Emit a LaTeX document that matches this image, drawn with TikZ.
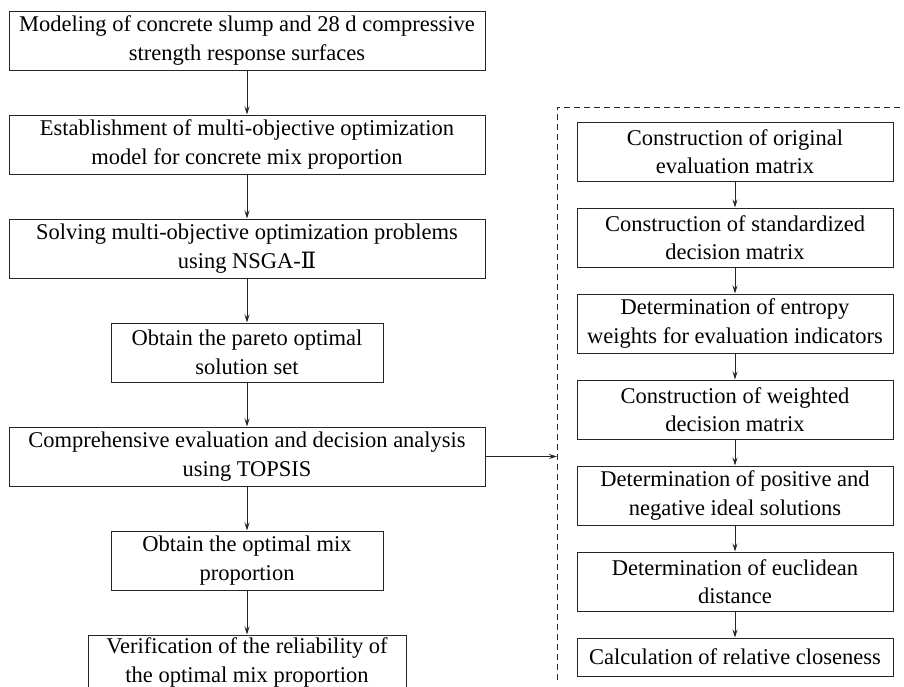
\documentclass[tikz,border=0pt]{standalone}
\usepackage{fontspec}
\setmainfont{Liberation Serif}
\newfontfamily\numfont{DejaVu Serif}
\usetikzlibrary{arrows.meta, positioning}

\begin{document}
\begin{tikzpicture}[
		>={Stealth[length=8pt, width=5pt]},
		node distance=44pt,
		box/.style={draw=black!85, line width=1pt, minimum height=59pt, inner sep=3pt, align=center,
			font=\fontsize{22.5}{28.5}\selectfont},
		widebox/.style={box, minimum width=476pt},
		narrowbox/.style={box, minimum width=272pt},
		stepbox/.style={box, minimum width=316pt},
		arr/.style={->, draw=black!85, line width=1pt},
	]
		\useasboundingbox[fill=white] (0pt,0pt) rectangle (904pt,-686pt);

		% Optimization procedure (left)
		\node[widebox] (model) at (247pt,-40.5pt) {Modeling of concrete slump and 28 d compressive\\strength response surfaces};
		\node[widebox, below=of model] (mop) {Establishment of multi-objective optimization\\model for concrete mix proportion};
		\node[widebox, below=of mop] (nsga) {Solving multi-objective optimization problems\\using NSGA-{\numfont Ⅱ}};
		\node[narrowbox, below=of nsga] (pareto) {Obtain the pareto optimal\\solution set};
		\node[widebox, below=of pareto] (topsis) {Comprehensive evaluation and decision analysis\\using TOPSIS};
		\node[narrowbox, below=of topsis] (optmix) {Obtain the optimal mix\\proportion};
		\node[box, minimum width=318pt, text depth=13pt, below=of optmix] (verify) {Verification of the reliability of\\the optimal mix proportion};

		% TOPSIS steps (right)
		\node[stepbox] (orig) at (735pt,-151.5pt) {Construction of original\\evaluation matrix};
		\node[stepbox, below=26pt of orig] (std) {Construction of standardized\\decision matrix};
		\node[stepbox, below=26pt of std] (entropy) {Determination of entropy\\weights for evaluation indicators};
		\node[stepbox, below=26pt of entropy] (weighted) {Construction of weighted\\decision matrix};
		\node[stepbox, below=26pt of weighted] (ideal) {Determination of positive and\\negative ideal solutions};
		\node[stepbox, below=26pt of ideal] (dist) {Determination of euclidean\\distance};
		\node[stepbox, minimum height=38pt, below=26pt of dist] (close) {Calculation of relative closeness};

		% Dashed frame
		\coordinate (frametl) at (557pt,-107pt);
		\coordinate (framebl) at (557pt,-680pt);
		\coordinate (frametr) at (904pt,-107pt);
		\draw[black!85, line width=1pt, dash pattern=on 6pt off 4pt] (framebl) -- (frametl) -- (frametr);

		% Arrows
		\draw[arr] (model) -- (mop);
		\draw[arr] (mop) -- (nsga);
		\draw[arr] (nsga) -- (pareto);
		\draw[arr] (pareto) -- (topsis);
		\draw[arr] (topsis) -- (optmix);
		\draw[arr] (optmix) -- (verify);
		\draw[arr] (topsis.east) -- (topsis.east -| frametl);
		\draw[arr] (orig) -- (std);
		\draw[arr] (std) -- (entropy);
		\draw[arr] (entropy) -- (weighted);
		\draw[arr] (weighted) -- (ideal);
		\draw[arr] (ideal) -- (dist);
		\draw[arr] (dist) -- (close);
	\end{tikzpicture}
\end{document}
